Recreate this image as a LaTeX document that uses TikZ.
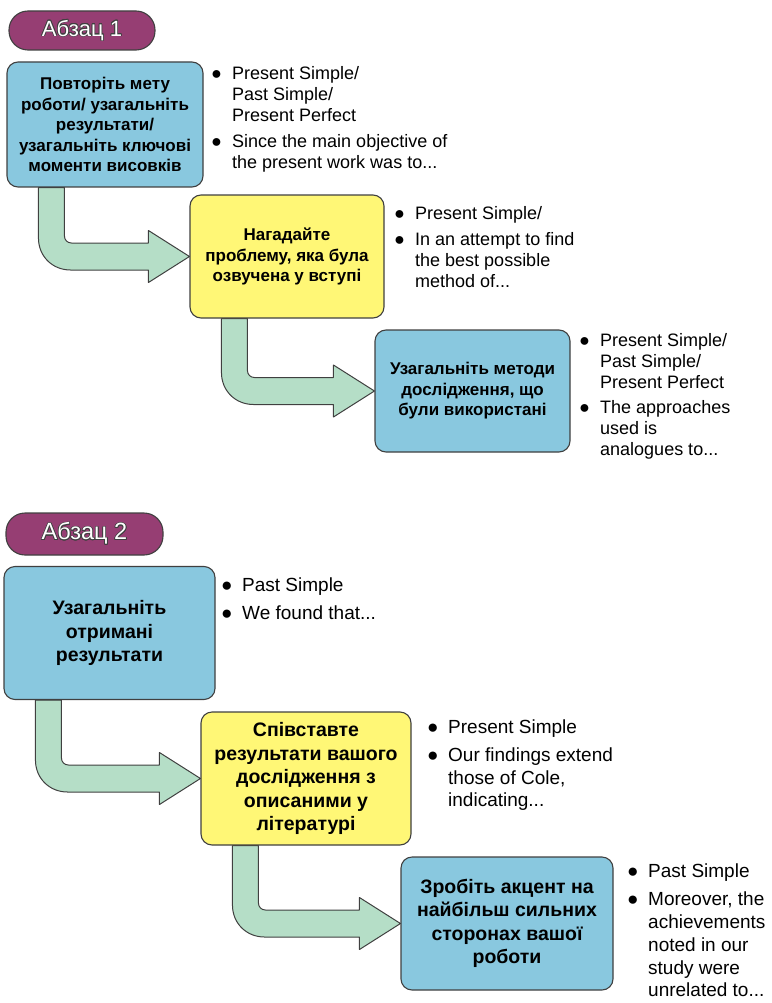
\documentclass[tikz,border=0pt]{standalone}
\usepackage{fontspec}
\setmainfont{Liberation Sans}
\usepackage{contour}
\usetikzlibrary{calc,backgrounds}
\contourlength{0.7pt}

\newcommand{\blt}{\makebox[21pt][l]{●}}
\newcommand{\ind}{\hspace*{21pt}}

% fat bent arrow from the bottom of one box to the west side of the next
\newcommand{\bentarrow}[2]{%
\path[flow] let \p1=(#1.south west), \p2=(#2.west) in
  (\x1+32pt,\y1) -- (\x1+32pt,\y2+18.5pt)
  .. controls (\x1+32pt,\y2+0.2pt) and (\x1+46pt,\y2-13.5pt) .. (\x1+64pt,\y2-13.5pt)
  -- (\x2-41pt,\y2-13.5pt) -- (\x2-41pt,\y2-26pt) -- (\x2,\y2)
  -- (\x2-41pt,\y2+26pt) -- (\x2-41pt,\y2+13.5pt) -- (\x1+65pt,\y2+13.5pt)
  .. controls (\x1+61pt,\y2+13.5pt) and (\x1+58pt,\y2+16.5pt) .. (\x1+58pt,\y2+20.5pt)
  -- (\x1+58pt,\y1) -- cycle;}

\begin{document}
\begin{tikzpicture}[x=1pt,y=-1pt,
  stage/.style={draw=borderColor,line width=1.1pt,rounded corners=11pt,align=center,
    inner sep=2pt,text=black,font=\fontsize{17}{20.5}\selectfont\bfseries},
  stagebig/.style={stage,font=\fontsize{19.5}{23.5}\selectfont\bfseries},
  notes/.style={anchor=north west,align=left,inner sep=0pt,text=black,
    font=\fontsize{18}{21}\selectfont},
  notesbig/.style={notes,font=\fontsize{19}{22.8}\selectfont},
  tag/.style={draw=borderColor,line width=1.1pt,fill=tagFill,rounded corners=19pt,
    text=white,inner sep=0pt,font=\fontsize{22}{24}\selectfont},
  flow/.style={draw=borderColor,line width=1pt,fill=flowFill,line join=round}]
\definecolor{blueFill}{RGB}{137,200,223}
\definecolor{yellowFill}{RGB}{255,247,118}
\definecolor{flowFill}{RGB}{181,222,199}
\definecolor{tagFill}{RGB}{150,62,115}
\definecolor{borderColor}{RGB}{64,64,64}
\path[use as bounding box] (0,0) rectangle (771,1003);

% paragraph 1
\node[tag,minimum width=146pt,minimum height=39pt] (tag1) at (82,30.5) {\contour{black!75}{Абзац 1}};

\node[stage,fill=blueFill,minimum width=196pt,minimum height=125pt] (restate) at (105,124.5)
  {Повторіть мету\\роботи/ узагальніть\\результати/\\узагальніть ключові\\моменти висовків};
\node[stage,fill=yellowFill,minimum width=194pt,minimum height=123pt] (problem) at (287,256.5)
  {Нагадайте\\проблему, яка була\\озвучена у вступі};
\node[stage,fill=blueFill,minimum width=195pt,minimum height=122pt] (methods) at (472.5,391)
  {Узагальніть методи\\дослідження, що\\були використані};

\node[notes] (restatenotes) at (211,66.5)
  {\blt Present Simple/\\\ind Past Simple/\\\ind Present Perfect\\[4.5pt]%
   \blt Since the main objective of\\\ind the present work was to...};
\node[notes] (problemnotes) at (394,206.5)
  {\blt Present Simple/\\[5pt]%
   \blt In an attempt to find\\\ind the best possible\\\ind method of...};
\node[notes] (methodsnotes) at (579,333.5)
  {\blt Present Simple/\\\ind Past Simple/\\\ind Present Perfect\\[4pt]%
   \blt The approaches\\\ind used is\\\ind analogues to...};

% paragraph 2
\node[tag,minimum width=157pt,minimum height=42pt,font=\fontsize{23.5}{25}\selectfont] (tag2) at (84.5,534) {\contour{black!75}{Абзац 2}};

\node[stagebig,fill=blueFill,minimum width=211pt,minimum height=133pt] (summary) at (109.5,633)
  {Узагальніть\\отримані\\результати};
\node[stagebig,fill=yellowFill,minimum width=210pt,minimum height=133pt] (compare) at (306,778.5)
  {Співставте\\результати вашого\\дослідження з\\описаними у\\літературі};
\node[stagebig,fill=blueFill,minimum width=212pt,minimum height=133pt] (strengths) at (507,923.5)
  {Зробіть акцент на\\найбільш сильних\\сторонах вашої\\роботи};

\node[notesbig] (summarynotes) at (221,578)
  {\blt Past Simple\\[4.5pt]\blt We found that...};
\node[notesbig] (comparenotes) at (427,720)
  {\blt Present Simple\\[4.5pt]%
   \blt Our findings extend\\\ind those of Cole,\\\ind indicating...};
\node[notesbig] (strengthsnotes) at (627,864)
  {\blt Past Simple\\[5pt]%
   \blt Moreover, the\\\ind achievements\\\ind noted in our\\\ind study were\\\ind unrelated to...};

\begin{pgfonlayer}{background}
\bentarrow{restate}{problem}
\bentarrow{problem}{methods}
\bentarrow{summary}{compare}
\bentarrow{compare}{strengths}
\end{pgfonlayer}
\end{tikzpicture}
\end{document}
